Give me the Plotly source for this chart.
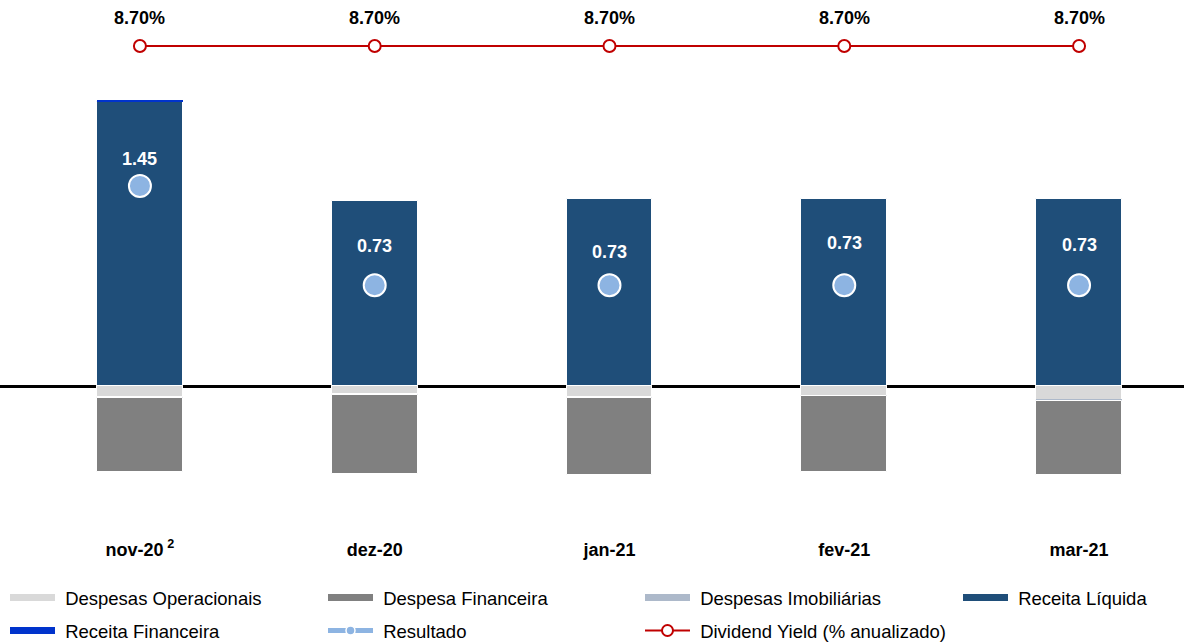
import plotly.graph_objects as go

categories = ["nov-20", "dez-20", "jan-21", "fev-21", "mar-21"]
tick_labels = ["nov-20\u2009<sup>2</sup>", "dez-20", "jan-21", "fev-21", "mar-21"]

receita_liquida = [2.06, 1.34, 1.355, 1.355, 1.355]
receita_financeira = [0.01, 0.0, 0.0, 0.0, 0.0]
despesas_operacionais = [-0.08, -0.06, -0.08, -0.07, -0.10]
despesas_imobiliarias = [-0.005, -0.005, -0.005, -0.005, -0.005]
despesa_financeira = [-0.54, -0.57, -0.56, -0.545, -0.54]
resultado = [1.45, 0.73, 0.73, 0.73, 0.73]
dividend_yield = [8.70, 8.70, 8.70, 8.70, 8.70]

result_label_shift = [27, 39, 33, 42, 40]

FONT = "Liberation Sans, Arial, sans-serif"
C_RL = "#1F4E79"
C_RF = "#0033CC"
C_DO = "#D9D9D9"
C_DF = "#808080"
C_DI = "#ADB9CA"
C_RES = "#8DB4E2"
C_DY = "#C00000"

W, H = 1184, 642
PLOT_BOTTOM = 530

fig = go.Figure()
bw = 0.366
bar_line = dict(color="white", width=1)

fig.add_trace(go.Bar(x=categories, y=receita_liquida, marker=dict(color=C_RL, line=bar_line), width=bw, showlegend=False, name="Receita Líquida"))
fig.add_trace(go.Bar(x=categories, y=receita_financeira, marker=dict(color=C_RF, line=dict(width=0)), width=bw, showlegend=False, name="Receita Financeira"))
fig.add_trace(go.Bar(x=categories, y=despesas_operacionais, marker=dict(color=C_DO, line=bar_line), width=bw, showlegend=False, name="Despesas Operacionais"))
fig.add_trace(go.Bar(x=categories, y=despesas_imobiliarias, marker=dict(color=C_DI, line=dict(width=0)), width=bw, showlegend=False, name="Despesas Imobiliárias"))
fig.add_trace(go.Bar(x=categories, y=despesa_financeira, marker=dict(color=C_DF, line=bar_line), width=bw, showlegend=False, name="Despesa Financeira"))

fig.add_trace(go.Scatter(x=categories, y=resultado, mode="markers",
                         marker=dict(color=C_RES, size=22, line=dict(color="white", width=2)),
                         showlegend=False, name="Resultado"))

fig.add_trace(go.Scatter(x=categories, y=dividend_yield, yaxis="y2", mode="lines+markers",
                         line=dict(color=C_DY, width=2),
                         marker=dict(symbol="circle", size=12, color="white", line=dict(color=C_DY, width=2)),
                         showlegend=False, name="Dividend Yield (% anualizado)"))

# legend entries: one legend per item, placed in a 4-column grid
legend_items = [
    ("Despesas Operacionais", dict(color=C_DO, width=7), None, 10, 598),
    ("Despesa Financeira", dict(color=C_DF, width=7), None, 328, 598),
    ("Despesas Imobiliárias", dict(color=C_DI, width=7), None, 645, 598),
    ("Receita Líquida", dict(color=C_RL, width=7), None, 963, 598),
    ("Receita Financeira", dict(color=C_RF, width=7), None, 10, 631),
    ("Resultado", dict(color=C_RES, width=5), dict(color=C_RES, size=9, line=dict(color="white", width=1.5)), 328, 631),
    ("Dividend Yield (% anualizado)", dict(color=C_DY, width=2), dict(color="white", size=11, line=dict(color=C_DY, width=2)), 645, 631),
]

legend_layouts = {}
for i, (name, line, marker, px, py) in enumerate(legend_items):
    key = "legend" if i == 0 else f"legend{i + 1}"
    kw = dict(x=[None], y=[None], name="\u00a0" + name, line=line, legend=key, showlegend=True)
    if marker is None:
        kw["mode"] = "lines"
    else:
        kw["mode"] = "lines+markers"
        kw["marker"] = marker
    fig.add_trace(go.Scatter(**kw))
    legend_layouts[key] = dict(orientation="h", x=(px - 5) / W, xanchor="left",
                               y=(PLOT_BOTTOM - py) / PLOT_BOTTOM, yanchor="middle",
                               itemwidth=45,
                               font=dict(family=FONT, size=18.5, color="black"),
                               bgcolor="rgba(0,0,0,0)")

annotations = []
for c, v, s in zip(categories, resultado, result_label_shift):
    annotations.append(dict(x=c, y=v, xref="x", yref="y", text=f"<b>{v:.2f}</b>", showarrow=False,
                            yshift=s, font=dict(family=FONT, size=18, color="white")))
for c, v in zip(categories, dividend_yield):
    annotations.append(dict(x=c, y=v, xref="x", yref="y2", text=f"<b>{v:.2f}%</b>", showarrow=False,
                            yshift=28, font=dict(family=FONT, size=18, color="black")))

fig.update_layout(
    width=W, height=H,
    margin=dict(l=0, r=0, t=0, b=H - PLOT_BOTTOM, autoexpand=False),
    barmode="relative",
    bargap=0,
    plot_bgcolor="white", paper_bgcolor="white",
    font=dict(family=FONT, size=18, color="black"),
    xaxis=dict(range=[-0.596, 4.447], tickmode="array", tickvals=categories, ticktext=tick_labels,
               showgrid=False, showline=False, ticks="", ticklabelstandoff=7,
               tickfont=dict(family=FONT, size=18, weight="bold")),
    yaxis=dict(range=[-1.043, 2.797], showgrid=False, showticklabels=False, zeroline=True,
               zerolinecolor="black", zerolinewidth=2.5, showline=False),
    yaxis2=dict(range=[0, 9.527], overlaying="y", showgrid=False, showticklabels=False, zeroline=False),
    annotations=annotations,
    hovermode=False,
    **legend_layouts,
)

fig.write_html("out.html", config={"displayModeBar": False},
               post_script="document.body.style.margin='0';document.body.style.overflow='hidden';")
